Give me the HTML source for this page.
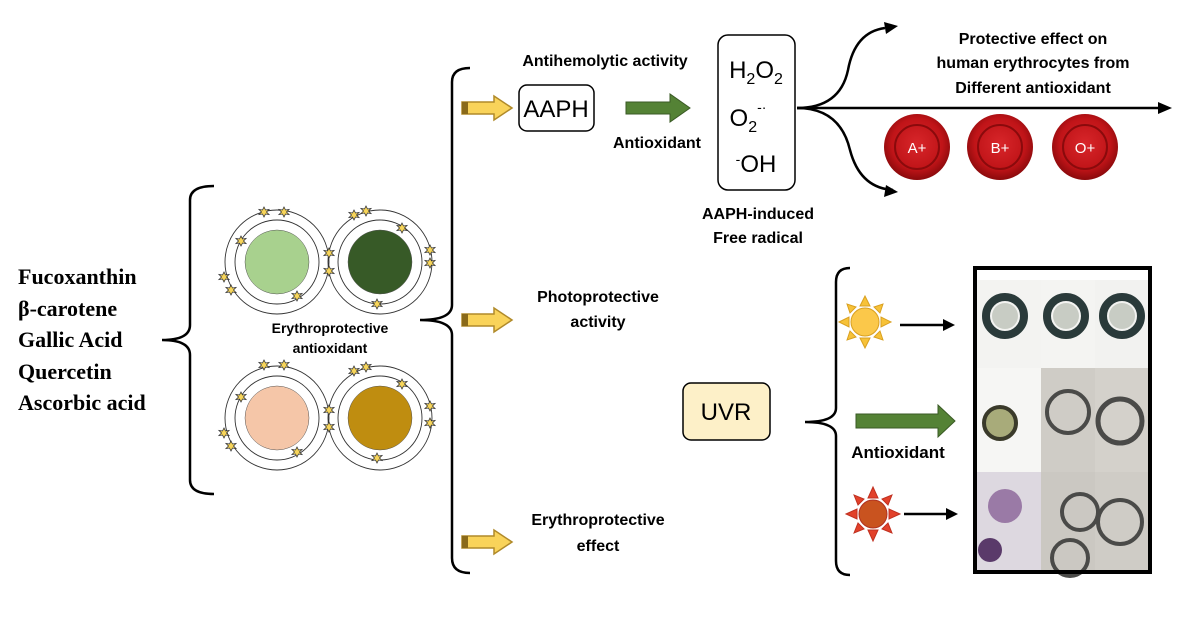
<!DOCTYPE html>
<html><head><meta charset="utf-8"><style>
html,body{margin:0;padding:0;background:#fff;width:1200px;height:620px;overflow:hidden}
svg text{font-family:"Liberation Sans",sans-serif}
</style></head><body>
<svg width="1200" height="620" viewBox="0 0 1200 620" xmlns="http://www.w3.org/2000/svg">
<defs>
<radialGradient id="rbc" cx="50%" cy="45%" r="55%"><stop offset="0" stop-color="#d8262a"/><stop offset="0.7" stop-color="#c01418"/><stop offset="1" stop-color="#8a0a0c"/></radialGradient>
<g id="star"><polygon points="0,-5 1.5,-2 5,-2.5 2.5,0 5,2.5 1.5,2 0,5 -1.5,2 -5,2.5 -2.5,0 -5,-2.5 -1.5,-2" fill="#f7d55a" stroke="#333" stroke-width="0.8"/></g>
<g id="yarrow"><polygon points="0,-6 32,-6 32,-12 50,0 32,12 32,6 0,6" fill="#f9d35a" stroke="#b08a2a" stroke-width="1.5"/><rect x="0" y="-6" width="6" height="12" fill="#8a6a1a"/></g>
</defs>

<!-- Left list -->
<g font-family="Liberation Serif" font-weight="bold" font-size="22" fill="#000">
<text x="18" y="284" style="font-family:'Liberation Serif',serif">Fucoxanthin</text>
<text x="18" y="316" style="font-family:'Liberation Serif',serif">β-carotene</text>
<text x="18" y="347" style="font-family:'Liberation Serif',serif">Gallic Acid</text>
<text x="18" y="379" style="font-family:'Liberation Serif',serif">Quercetin</text>
<text x="18" y="410" style="font-family:'Liberation Serif',serif">Ascorbic acid</text>
</g>
<!-- left brace -->
<path d="M214,186 Q190,186 190,200 L190,325 Q190,340 162,340 Q190,340 190,355 L190,480 Q190,494 214,494" fill="none" stroke="#000" stroke-width="2.5"/>

<!-- circles -->
<g fill="none" stroke="#333" stroke-width="0.9">
<circle cx="277" cy="262" r="52"/><circle cx="277" cy="262" r="42"/>
<circle cx="380" cy="262" r="52"/><circle cx="380" cy="262" r="42"/>
<circle cx="277" cy="418" r="52"/><circle cx="277" cy="418" r="42"/>
<circle cx="380" cy="418" r="52"/><circle cx="380" cy="418" r="42"/>
</g>
<circle cx="277" cy="262" r="32" fill="#a8d18e" stroke="#555" stroke-width="0.5"/>
<circle cx="380" cy="262" r="32" fill="#375a27" stroke="#555" stroke-width="0.5"/>
<circle cx="277" cy="418" r="32" fill="#f5c6a8" stroke="#555" stroke-width="0.5"/>
<circle cx="380" cy="418" r="32" fill="#bf8d10" stroke="#555" stroke-width="0.5"/>
<g>
<use href="#star" x="264" y="212"/><use href="#star" x="284" y="212"/><use href="#star" x="241" y="241"/><use href="#star" x="224" y="277"/><use href="#star" x="231" y="290"/><use href="#star" x="297" y="296"/>
<use href="#star" x="354" y="215"/><use href="#star" x="366" y="211"/><use href="#star" x="402" y="228"/><use href="#star" x="329" y="253"/><use href="#star" x="329" y="271"/><use href="#star" x="430" y="250"/><use href="#star" x="430" y="263"/><use href="#star" x="377" y="304"/>
<use href="#star" x="264" y="365"/><use href="#star" x="284" y="365"/><use href="#star" x="241" y="397"/><use href="#star" x="224" y="433"/><use href="#star" x="231" y="446"/><use href="#star" x="297" y="452"/>
<use href="#star" x="354" y="371"/><use href="#star" x="366" y="367"/><use href="#star" x="402" y="384"/><use href="#star" x="329" y="410"/><use href="#star" x="329" y="427"/><use href="#star" x="430" y="406"/><use href="#star" x="430" y="423"/><use href="#star" x="377" y="458"/>
</g>
<text x="330" y="333" font-size="14" font-weight="bold" text-anchor="middle">Erythroprotective</text>
<text x="330" y="353" font-size="14" font-weight="bold" text-anchor="middle">antioxidant</text>

<!-- big brace -->
<path d="M470,68 Q452,68 452,82 L452,305 Q452,320 420,320 Q452,320 452,335 L452,558 Q452,573 470,573" fill="none" stroke="#000" stroke-width="2.5"/>

<use href="#yarrow" x="462" y="108"/>
<use href="#yarrow" x="462" y="320"/>
<use href="#yarrow" x="462" y="542"/>

<text x="605" y="66" font-size="16" font-weight="bold" text-anchor="middle">Antihemolytic activity</text>
<rect x="519" y="85" width="75" height="46" rx="8" fill="#fff" stroke="#000" stroke-width="1.5"/>
<text x="556" y="117" font-size="24" text-anchor="middle">AAPH</text>
<polygon points="626,102 670,102 670,94 690,108 670,122 670,114 626,114" fill="#548235" stroke="#3a5a25"/>
<text x="657" y="148" font-size="16" font-weight="bold" text-anchor="middle">Antioxidant</text>

<rect x="718" y="35" width="77" height="155" rx="10" fill="#fff" stroke="#000" stroke-width="1.5"/>
<text x="756" y="78" font-size="24" text-anchor="middle">H<tspan font-size="16" dy="6">2</tspan><tspan dy="-6">O</tspan><tspan font-size="16" dy="6">2</tspan></text>
<text x="748" y="126" font-size="24" text-anchor="middle">O<tspan font-size="16" dy="6">2</tspan><tspan font-size="14" dy="-20">-·</tspan></text>
<text x="756" y="172" font-size="24" text-anchor="middle"><tspan font-size="14" dy="-8">-</tspan><tspan dy="8">OH</tspan></text>
<text x="758" y="219" font-size="16" font-weight="bold" text-anchor="middle">AAPH-induced</text>
<text x="758" y="243" font-size="16" font-weight="bold" text-anchor="middle">Free radical</text>

<!-- branching arrows -->
<g fill="none" stroke="#000" stroke-width="2.5">
<path d="M797,108 L1160,108"/>
<path d="M797,108 Q840,108 848,70 Q855,32 885,28"/>
<path d="M797,108 Q840,108 850,150 Q860,188 893,190"/>
</g>
<polygon points="1172,108 1158,102 1158,114" fill="#000"/>
<polygon points="898,26 884,22 886,34" fill="#000"/>
<polygon points="898,192 886,185 884,197" fill="#000"/>
<g font-size="16" font-weight="bold" text-anchor="middle">
<text x="1033" y="44">Protective effect on</text>
<text x="1033" y="68">human erythrocytes from</text>
<text x="1033" y="93">Different antioxidant</text>
</g>
<g font-size="15" fill="#fff" text-anchor="middle">
<circle cx="917" cy="147" r="33" fill="url(#rbc)"/><circle cx="917" cy="147" r="22" fill="none" stroke="#8a0a0c" stroke-width="2"/><text x="917" y="153">A+</text>
<circle cx="1000" cy="147" r="33" fill="url(#rbc)"/><circle cx="1000" cy="147" r="22" fill="none" stroke="#8a0a0c" stroke-width="2"/><text x="1000" y="153">B+</text>
<circle cx="1085" cy="147" r="33" fill="url(#rbc)"/><circle cx="1085" cy="147" r="22" fill="none" stroke="#8a0a0c" stroke-width="2"/><text x="1085" y="153">O+</text>
</g>

<text x="598" y="302" font-size="16" font-weight="bold" text-anchor="middle">Photoprotective</text>
<text x="598" y="327" font-size="16" font-weight="bold" text-anchor="middle">activity</text>
<text x="598" y="525" font-size="16" font-weight="bold" text-anchor="middle">Erythroprotective</text>
<text x="598" y="551" font-size="16" font-weight="bold" text-anchor="middle">effect</text>

<rect x="683" y="383" width="87" height="57" rx="8" fill="#fdf0c8" stroke="#000" stroke-width="1.5"/>
<text x="726" y="420" font-size="24" text-anchor="middle">UVR</text>

<path d="M850,268 Q836,268 836,282 L836,408 Q836,422 805,422 Q836,422 836,436 L836,561 Q836,575 850,575" fill="none" stroke="#000" stroke-width="2.5"/>

<!-- yellow sun -->
<g transform="translate(865,322)">
<g fill="#f7c238" stroke="#d9a020" stroke-width="1">
<polygon points="0,-26 -5,-16 5,-16"/><polygon points="0,26 -5,16 5,16"/><polygon points="-26,0 -16,-5 -16,5"/><polygon points="26,0 16,-5 16,5"/>
<polygon points="-18,-18 -15,-9 -9,-15"/><polygon points="18,-18 15,-9 9,-15"/><polygon points="-18,18 -15,9 -9,15"/><polygon points="18,18 15,9 9,15"/>
</g>
<circle r="14" fill="#fbc84a" stroke="#d9a020"/>
</g>
<line x1="900" y1="325" x2="945" y2="325" stroke="#000" stroke-width="2.5"/><polygon points="955,325 943,319 943,331" fill="#000"/>

<polygon points="856,414 938,414 938,405 955,421 938,437 938,428 856,428" fill="#548235" stroke="#3a5a25"/>
<text x="898" y="458" font-size="17" font-weight="bold" text-anchor="middle">Antioxidant</text>

<!-- red sun -->
<g transform="translate(873,514)">
<g fill="#e2412a" stroke="#c03020" stroke-width="1">
<polygon points="0,-27 -5,-16 5,-16"/><polygon points="0,27 -5,16 5,16"/><polygon points="-27,0 -16,-5 -16,5"/><polygon points="27,0 16,-5 16,5"/>
<polygon points="-19,-19 -15,-9 -9,-15"/><polygon points="19,-19 15,-9 9,-15"/><polygon points="-19,19 -15,9 -9,15"/><polygon points="19,19 15,9 9,15"/>
</g>
<circle r="14" fill="#c9531f" stroke="#b03020"/>
</g>
<line x1="904" y1="514" x2="948" y2="514" stroke="#000" stroke-width="2.5"/><polygon points="958,514 946,508 946,520" fill="#000"/>

<!-- microscopy -->
<rect x="975" y="268" width="176" height="304" fill="#fff"/>
<rect x="977" y="280" width="64" height="88" fill="#f3f3f1"/>
<rect x="1041" y="280" width="54" height="88" fill="#f4f4f2"/>
<rect x="1095" y="280" width="53" height="88" fill="#f2f2f0"/>
<rect x="977" y="368" width="64" height="104" fill="#f6f6f4"/>
<rect x="1041" y="368" width="54" height="104" fill="#cfccc6"/>
<rect x="1095" y="368" width="53" height="104" fill="#d4d1cb"/>
<rect x="977" y="472" width="64" height="100" fill="#ddd8e0"/>
<rect x="1041" y="472" width="54" height="100" fill="#cbc8c2"/>
<rect x="1095" y="472" width="53" height="100" fill="#cfccc6"/>
<g fill="none">
<circle cx="1005" cy="316" r="19" stroke="#2a3a3a" stroke-width="8"/><circle cx="1005" cy="316" r="13" fill="#c8ccc4"/>
<circle cx="1066" cy="316" r="19" stroke="#2a3a3a" stroke-width="8"/><circle cx="1066" cy="316" r="13" fill="#c8ccc4"/>
<circle cx="1122" cy="316" r="19" stroke="#2a3a3a" stroke-width="8"/><circle cx="1122" cy="316" r="13" fill="#c8ccc4"/>
<circle cx="1000" cy="423" r="16" stroke="#3a3a2a" stroke-width="4" fill="#a8ab7a"/>
<circle cx="1068" cy="412" r="21" stroke="#4a4a48" stroke-width="4"/>
<circle cx="1120" cy="421" r="22" stroke="#4a4a48" stroke-width="5"/>
<circle cx="1005" cy="506" r="17" fill="#9a7aa6"/>
<circle cx="990" cy="550" r="12" fill="#5a3a6a"/>
<circle cx="1080" cy="512" r="18" stroke="#4a4a48" stroke-width="4"/>
<circle cx="1070" cy="558" r="18" stroke="#4a4a48" stroke-width="4"/>
<circle cx="1120" cy="522" r="22" stroke="#4a4a48" stroke-width="4"/>
</g>
<rect x="975" y="268" width="175" height="304" fill="none" stroke="#000" stroke-width="4"/>
</svg>
</body></html>
